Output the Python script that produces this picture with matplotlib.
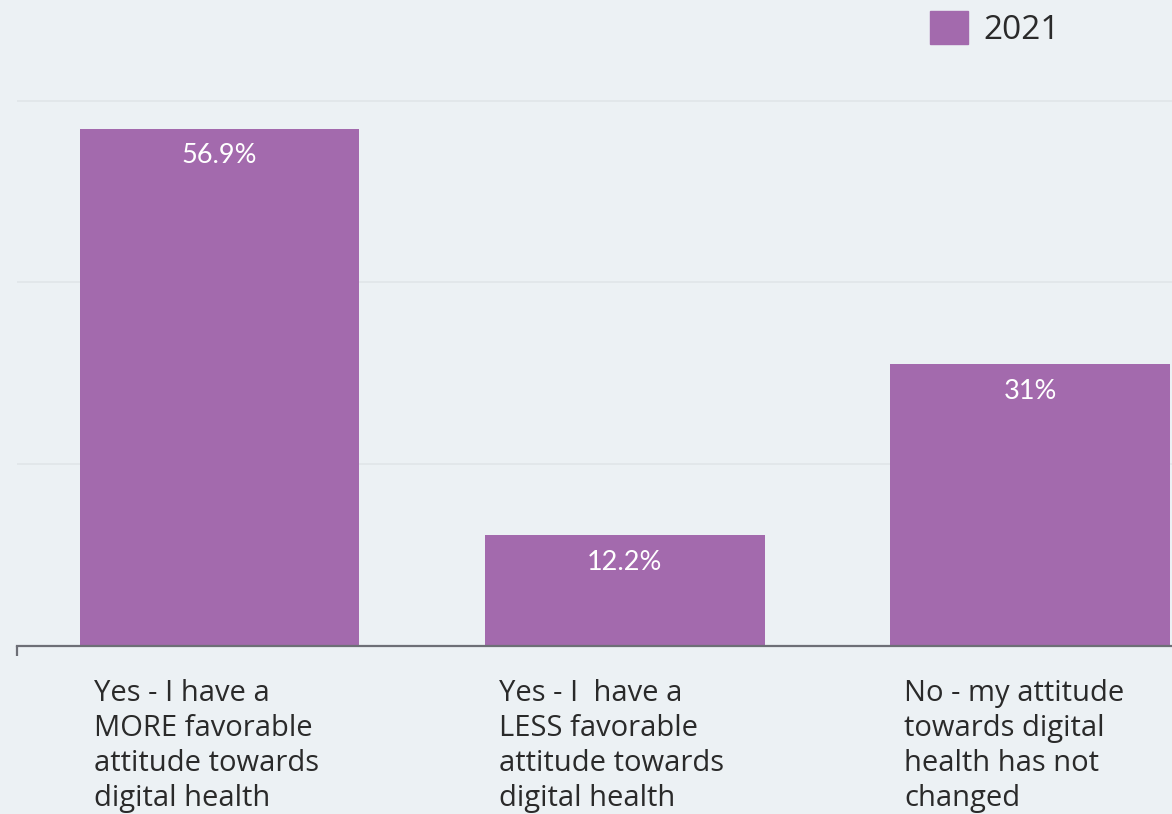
import matplotlib
matplotlib.use("Agg")
import matplotlib.pyplot as plt
from matplotlib.patches import Patch

# survey answers and their shares (%)
categories = [
    "Yes - I have a\nMORE favorable\nattitude towards\ndigital health",
    "Yes - I  have a\nLESS favorable\nattitude towards\ndigital health",
    "No - my attitude\ntowards digital\nhealth has not\nchanged",
]
values = [56.9, 12.2, 31]
value_labels = ["56.9%", "12.2%", "31%"]
series_name = "2021"

bg = "#ecf1f4"
bar_color = "#a36aad"
text_color = "#2a2a2a"

fig = plt.figure(figsize=(11.72, 8.14), dpi=100, facecolor=bg)
ax = fig.add_axes([17 / 1172, 168 / 814, 1 - 17 / 1172, 65 * 9.09 / 814])
ax.set_facecolor(bg)

x = list(range(len(categories)))
bar_w = 0.69
ax.bar(x, values, width=bar_w, color=bar_color, zorder=2)

ax.set_xlim(-0.5, 2.35)
ax.set_ylim(0, 65)
ax.set_yticks([20, 40, 60])
ax.yaxis.grid(True, color="#e1e5e8", linewidth=1.2, zorder=0)
ax.tick_params(left=False, bottom=False, labelleft=False, labelbottom=False)
for side in ["top", "right", "left"]:
    ax.spines[side].set_visible(False)
ax.spines["bottom"].set_color("#6d6f76")
ax.spines["bottom"].set_linewidth(1.6)
ax.spines["bottom"].set_zorder(3)

# little tick at the left end of the axis line
ax.plot([0, 0], [0, -0.017], transform=ax.transAxes, color="#6d6f76",
        lw=1.6, clip_on=False, solid_capstyle="butt")

# value labels inside the bars
for xi, v, lab in zip(x, values, value_labels):
    ax.annotate(lab, (xi, v), xytext=(0, -27), textcoords="offset pixels",
                ha="center", va="center", color="white", fontsize=19.5,
                family="Lato", zorder=4)

# category labels, left aligned under each bar
for xi, cat in zip(x, categories):
    ax.annotate(cat, (xi - bar_w / 2, 0), xytext=(14, -33),
                textcoords="offset pixels", ha="left", va="top",
                color=text_color, fontsize=21, family="Open Sans",
                linespacing=1.28, annotation_clip=False)

ax.legend(handles=[Patch(color=bar_color, label=series_name)],
          loc="upper left", bbox_to_anchor=(900 / 1172, 1 + 19 / 814),
          bbox_transform=fig.transFigure, frameon=False,
          handlelength=1.15, handleheight=1.15, handletextpad=0.45,
          prop={"family": "Open Sans", "size": 24}, labelcolor=text_color)

fig.savefig("out.png", dpi=100, facecolor=bg)
